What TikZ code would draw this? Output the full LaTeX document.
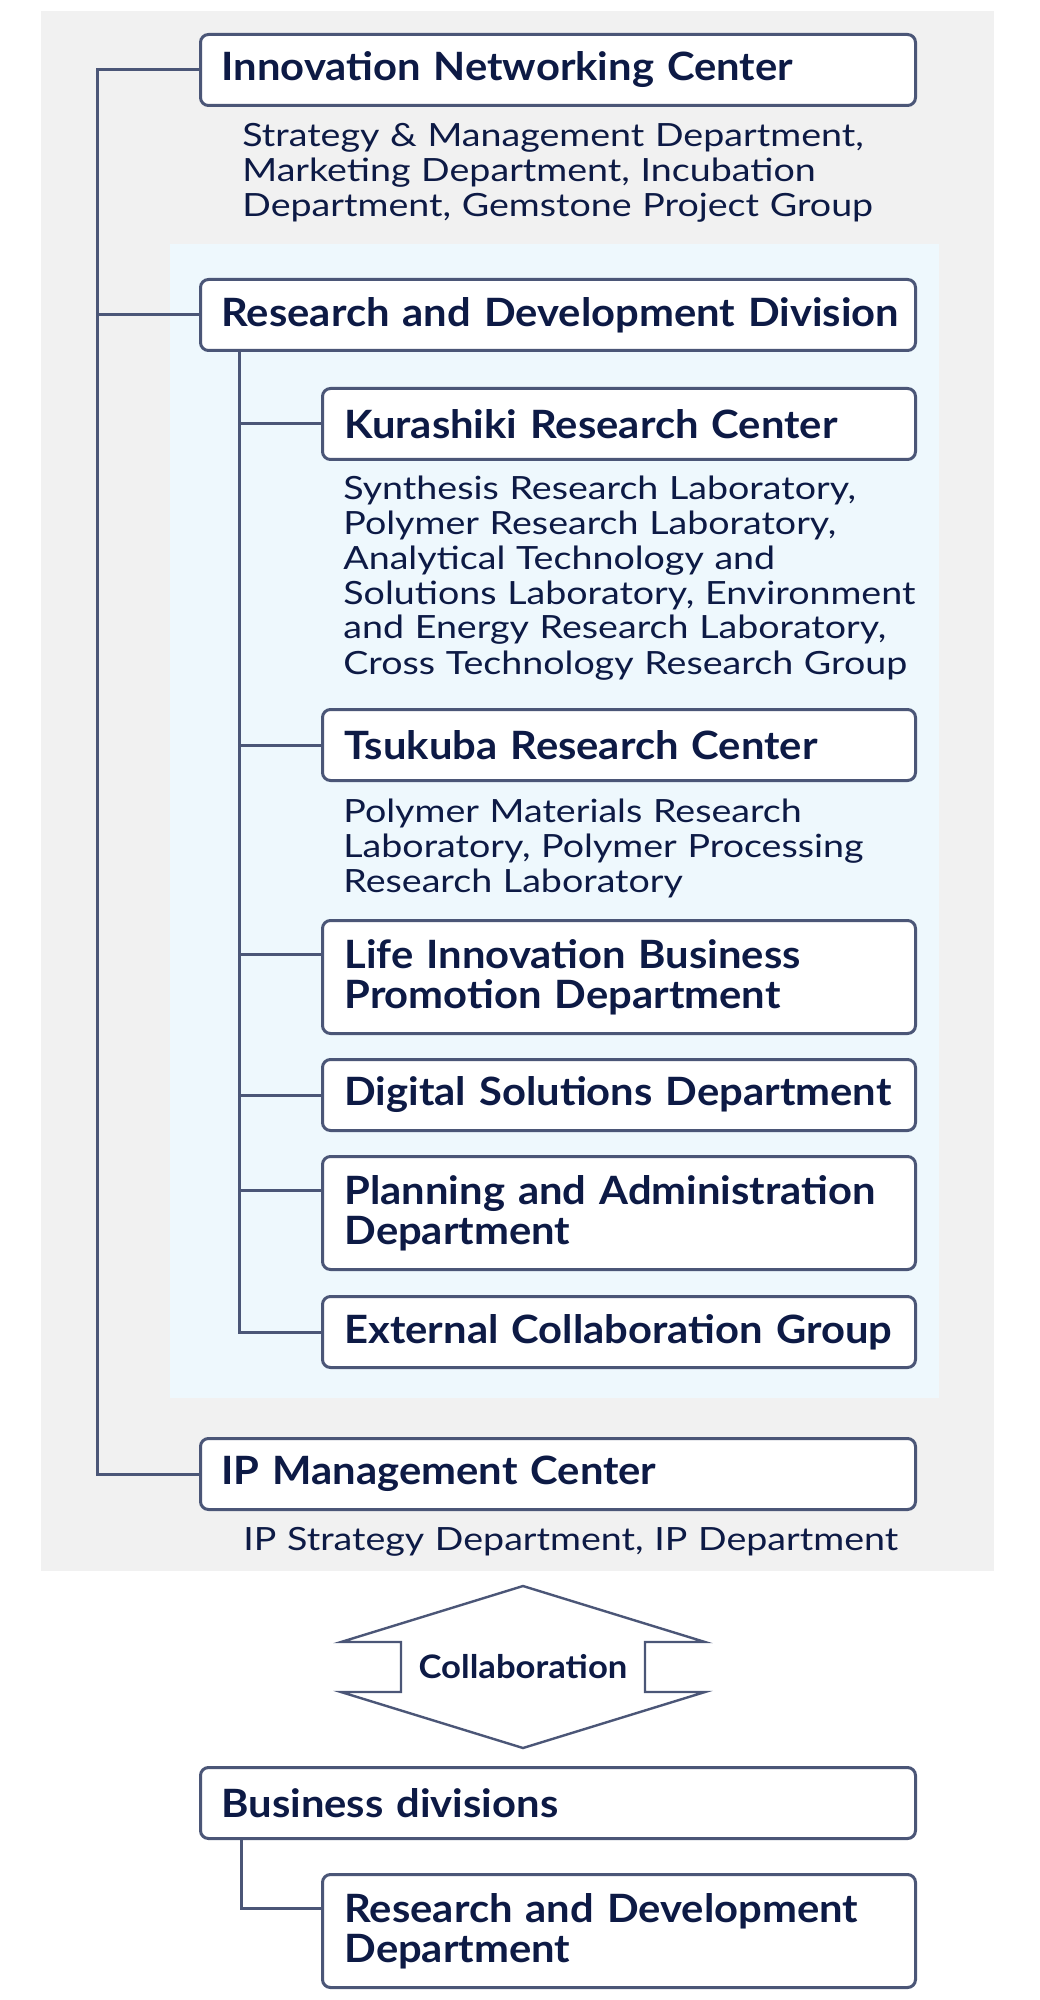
\documentclass[tikz,border=0pt]{standalone}
\usepackage{fontspec}
\setmainfont{Lato}[FakeStretch=1.07]
\newfontfamily\subfont{Lato}[FakeStretch=1.175]
\definecolor{bggrey}{HTML}{F1F1F1}
\definecolor{bgblue}{HTML}{EEF8FD}
\definecolor{linec}{HTML}{4B5677}
\definecolor{txtc}{HTML}{0D1A45}
\newcommand{\ml}[1]{\mbox{#1}}
\tikzset{
  conn/.style={draw=linec, line width=1.5pt},
  boxbase/.style={draw=linec, line width=1.5pt, fill=white, rounded corners=4pt,
    anchor=north west, inner ysep=0pt, minimum height=35.5pt, align=left,
    text=txtc, font=\fontsize{19.5}{20}\selectfont\bfseries},
  bigbox/.style={boxbase, inner xsep=10.5pt, text width=336.5pt},
  smallbox/.style={boxbase, inner xsep=11pt, text width=274.5pt},
  tallbox/.style={minimum height=56.5pt},
  subtext/.style={anchor=base west, inner sep=0pt, align=left, text width=340pt,
    text=txtc, font=\fontsize{16}{17.5}\selectfont\subfont}
}
\begin{document}
\begin{tikzpicture}[x=0.5pt,y=-0.5pt]
\useasboundingbox (0,0) rectangle (1039,2000);
\fill[bggrey] (41,11) rectangle (994,1571);
\fill[bgblue] (170,244) rectangle (939,1398);

\coordinate (mtx) at (97,0);
\coordinate (itx) at (239,0);
\coordinate (btx) at (241,0);

\node[bigbox] (inc) at (199,33) {\ml{Innovation Networking Center}};
\node[subtext] (incsub) at (242,147) {Strategy \& Management Department,\\Marketing Department, Incubation\\Department, Gemstone Project Group};
\node[bigbox] (rdd) at (199,278) {\ml{Research and Development Division}};
\node[smallbox] (kur) at (321,387) {\ml{Kurashiki Research Center}};
\node[subtext] (kursub) at (343,499) {Synthesis Research Laboratory,\\Polymer Research Laboratory,\\Analytical Technology and\\Solutions Laboratory, Environment\\and Energy Research Laboratory,\\Cross Technology Research Group};
\node[smallbox] (tsu) at (321,708) {\ml{Tsukuba Research Center}};
\node[subtext] (tsusub) at (343,822) {Polymer Materials Research\\Laboratory, Polymer Processing\\Research Laboratory};
\node[smallbox, tallbox] (life) at (321,919) {\ml{Life Innovation Business}\\\ml{Promotion Department}};
\node[smallbox] (dig) at (321,1058) {\ml{Digital Solutions Department}};
\node[smallbox, tallbox] (plan) at (321,1155) {\ml{Planning and Administration}\\\ml{Department}};
\node[smallbox] (ext) at (321,1295) {\ml{External Collaboration Group}};
\node[bigbox] (ip) at (199,1437) {\ml{IP Management Center}};
\node[subtext] (ipsub) at (243,1550) {IP Strategy Department, IP Department};

\draw[conn] (inc.west) -- (inc.west -| mtx) |- (ip.west);
\draw[conn] (rdd.west) -- (rdd.west -| mtx);

\coordinate (lifec) at ([yshift=-17.5pt]life.north west);
\coordinate (planc) at ([yshift=-17.5pt]plan.north west);
\draw[conn] (rdd.south -| itx) |- (ext.west);
\draw[conn] (kur.west) -- (kur.west -| itx);
\draw[conn] (tsu.west) -- (tsu.west -| itx);
\draw[conn] (lifec) -- (lifec -| itx);
\draw[conn] (dig.west) -- (dig.west -| itx);
\draw[conn] (planc) -- (planc -| itx);

\draw[draw=linec, line width=1.2pt, line join=miter] (523,1586) -- (705,1642) -- (645,1642) -- (645,1692) -- (705,1692) -- (523,1748) -- (341,1692) -- (401,1692) -- (401,1642) -- (341,1642) -- cycle;
\node[text=txtc, font=\fontsize{16.2}{17}\selectfont\bfseries, inner sep=0pt] (collab) at (523,1667) {Collaboration};

\node[bigbox] (bus) at (199,1766) {\ml{Business divisions}};
\node[smallbox, tallbox] (rdd2) at (321,1873) {\ml{Research and Development}\\\ml{Department}};
\coordinate (rdd2c) at ([yshift=-17.5pt]rdd2.north west);
\draw[conn] (bus.south -| btx) |- (rdd2c);
\end{tikzpicture}
\end{document}
